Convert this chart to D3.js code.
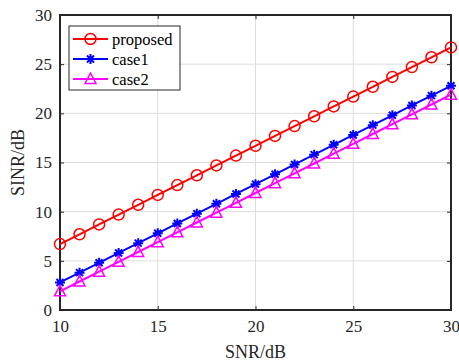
<!DOCTYPE html>
<html>
<head>
<meta charset="utf-8">
<script src="https://cdn.jsdelivr.net/npm/d3@7"></script>
<style>
  body { margin: 0; background: #fff; }
  svg { font-family: "Liberation Serif", "Times New Roman", serif; }
</style>
</head>
<body>
<svg id="chart" width="459" height="363"></svg>
<script>
const snr = [10, 11, 12, 13, 14, 15, 16, 17, 18, 19, 20, 21, 22, 23, 24, 25, 26, 27, 28, 29, 30];
const proposed = [6.7, 7.7, 8.7, 9.7, 10.7, 11.7, 12.7, 13.7, 14.7, 15.7, 16.7, 17.7, 18.7, 19.7, 20.7, 21.7, 22.7, 23.7, 24.7, 25.7, 26.7];
const case1 = [2.8, 3.8, 4.8, 5.8, 6.8, 7.8, 8.8, 9.8, 10.8, 11.8, 12.8, 13.8, 14.8, 15.8, 16.8, 17.8, 18.8, 19.8, 20.8, 21.8, 22.8];
const case2 = [1.9, 2.9, 3.9, 4.9, 5.9, 6.9, 7.9, 8.9, 9.9, 10.9, 11.9, 12.9, 13.9, 14.9, 15.9, 16.9, 17.9, 18.9, 19.9, 20.9, 21.9];
const xTicks = [10, 15, 20, 25, 30];
const yTicks = [0, 5, 10, 15, 20, 25, 30];

const series = [
  { name: 'proposed', values: proposed, color: '#ff0000', marker: 'circle' },
  { name: 'case1', values: case1, color: '#0000ff', marker: 'star' },
  { name: 'case2', values: case2, color: '#ff00ff', marker: 'triangle' }
];

const margin = { top: 15, right: 8, bottom: 53, left: 60 };
const width = 459, height = 363;
const svg = d3.select('#chart');

const x = d3.scaleLinear().domain([10, 30]).range([margin.left, width - margin.right]);
const y = d3.scaleLinear().domain([0, 30]).range([height - margin.bottom, margin.top]);

const axisColor = '#262626';

// grid
const grid = svg.append('g').attr('stroke', '#dedede').attr('stroke-width', 1);
grid.selectAll('.gx').data(xTicks).enter().append('line')
  .attr('x1', d => x(d)).attr('x2', d => x(d))
  .attr('y1', y(0)).attr('y2', y(30));
grid.selectAll('.gy').data(yTicks).enter().append('line')
  .attr('x1', x(10)).attr('x2', x(30))
  .attr('y1', d => y(d)).attr('y2', d => y(d));

// axes
const styleAxis = g => {
  g.select('.domain').remove();
  g.selectAll('line').attr('stroke', axisColor);
  g.selectAll('text').attr('fill', axisColor).style('font-size', '17px')
    .style('font-family', '"Liberation Serif", serif');
};
svg.append('g').attr('transform', `translate(0,${y(0)})`)
  .call(d3.axisBottom(x).tickValues(xTicks).tickSize(-4).tickPadding(10))
  .call(styleAxis);
svg.append('g').attr('transform', `translate(${x(10)},0)`)
  .call(d3.axisLeft(y).tickValues(yTicks).tickSize(-4).tickPadding(8))
  .call(styleAxis);
svg.append('g').attr('transform', `translate(0,${y(30)})`)
  .call(d3.axisTop(x).tickValues(xTicks).tickSize(-4).tickFormat(''))
  .call(styleAxis);
svg.append('g').attr('transform', `translate(${x(30)},0)`)
  .call(d3.axisRight(y).tickValues(yTicks).tickSize(-4).tickFormat(''))
  .call(styleAxis);

// box
svg.append('rect')
  .attr('x', x(10)).attr('y', y(30))
  .attr('width', x(30) - x(10)).attr('height', y(0) - y(30))
  .attr('fill', 'none').attr('stroke', axisColor).attr('stroke-width', 2);

// markers
function drawMarker(g, type, color) {
  if (type === 'circle') {
    g.append('circle').attr('r', 5.5).attr('fill', 'none').attr('stroke', color).attr('stroke-width', 1.5);
  } else if (type === 'star') {
    g.append('path').attr('d', 'M-5,0H5M0,-5V5M-3.5,-3.5L3.5,3.5M-3.5,3.5L3.5,-3.5')
      .attr('stroke', color).attr('stroke-width', 2);
  } else {
    g.append('path').attr('d', 'M0,-6L5.5,4.5H-5.5Z')
      .attr('fill', 'none').attr('stroke', color).attr('stroke-width', 1.5);
  }
}

const line = d3.line().x(d => x(d[0])).y(d => y(d[1]));

series.forEach(s => {
  const pts = snr.map((v, i) => [v, s.values[i]]);
  svg.append('path').datum(pts)
    .attr('d', line).attr('fill', 'none')
    .attr('stroke', s.color).attr('stroke-width', 2);
  svg.append('g').selectAll('g').data(pts).enter().append('g')
    .attr('transform', d => `translate(${x(d[0])},${y(d[1])})`)
    .each(function () { drawMarker(d3.select(this), s.marker, s.color); });
});

// legend
const legend = svg.append('g').attr('transform', 'translate(69,26)');
legend.append('rect').attr('width', 111).attr('height', 64)
  .attr('fill', '#fff').attr('stroke', axisColor).attr('stroke-width', 1);
series.forEach((s, i) => {
  const row = legend.append('g').attr('transform', `translate(0,${13 + i * 20})`);
  row.append('line').attr('x1', 4).attr('x2', 39).attr('stroke', s.color).attr('stroke-width', 2);
  const m = row.append('g').attr('transform', 'translate(21.5,0)');
  drawMarker(m, s.marker, s.color);
  row.append('text').attr('x', 43).attr('y', 5.5).text(s.name)
    .style('font-size', '16.5px').attr('fill', '#000');
});

// axis labels
svg.append('text').attr('x', (x(10) + x(30)) / 2).attr('y', 358)
  .attr('text-anchor', 'middle').style('font-size', '18px').attr('fill', axisColor).text('SNR/dB');
svg.append('text').attr('transform', `translate(24,${(y(0) + y(30)) / 2}) rotate(-90)`)
  .attr('text-anchor', 'middle').style('font-size', '18px').attr('fill', axisColor).text('SINR/dB');
</script>
</body>
</html>
